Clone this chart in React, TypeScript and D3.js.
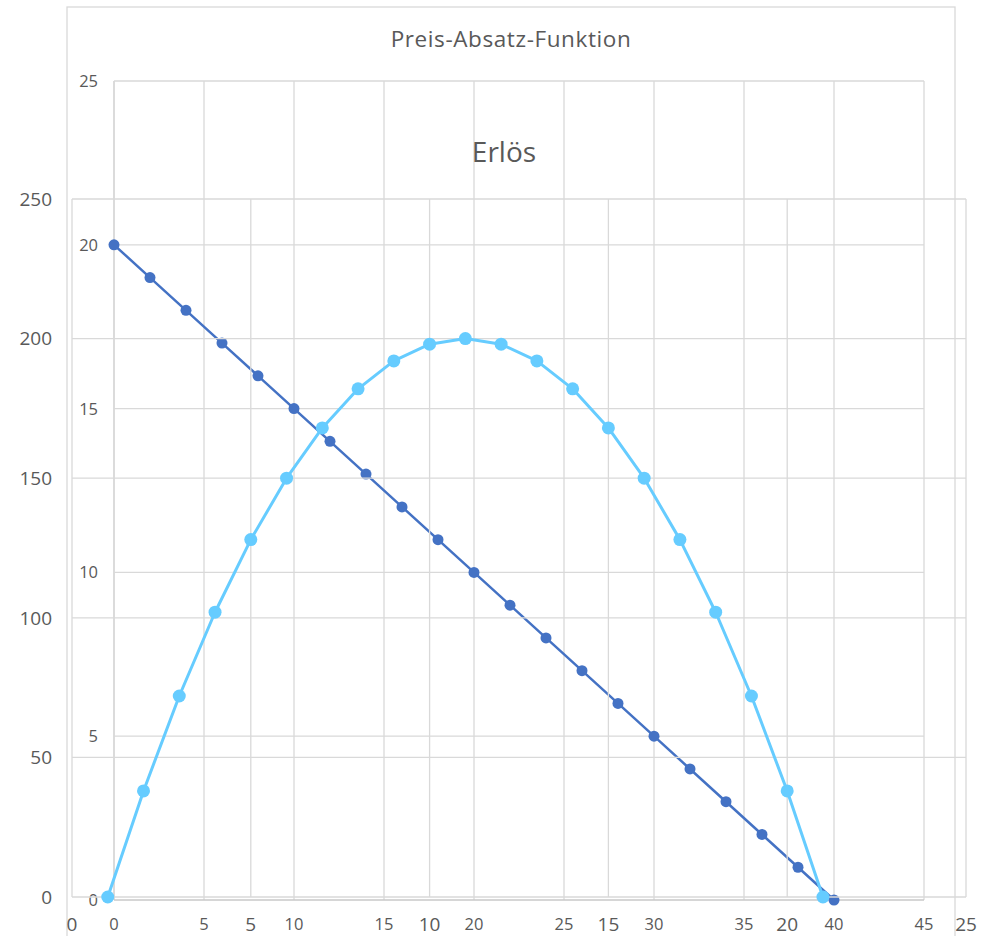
import React from "react";
import * as d3 from "d3";

// Back chart: Preis-Absatz-Funktion
const quantities = [0, 2, 4, 6, 8, 10, 12, 14, 16, 18, 20, 22, 24, 26, 28, 30, 32, 34, 36, 38, 40];
const prices = [20, 19, 18, 17, 16, 15, 14, 13, 12, 11, 10, 9, 8, 7, 6, 5, 4, 3, 2, 1, 0];
const backXTicks = [0, 5, 10, 15, 20, 25, 30, 35, 40, 45];
const backYTicks = [0, 5, 10, 15, 20, 25];

// Front chart: Erlös (plotted at category positions 1..21)
const revenuePositions = [1, 2, 3, 4, 5, 6, 7, 8, 9, 10, 11, 12, 13, 14, 15, 16, 17, 18, 19, 20, 21];
const revenue = [0, 38, 72, 102, 128, 150, 168, 182, 192, 198, 200, 198, 192, 182, 168, 150, 128, 102, 72, 38, 0];
const frontXTicks = [0, 5, 10, 15, 20, 25];
const frontYTicks = [0, 50, 100, 150, 200, 250];

const FONT = "'Open Sans', 'Noto Sans', sans-serif";
const GRID = "#d9d9d9";
const TEXT = "#595959";
const DARK = "#4472C4";
const LIGHT = "#66CCFF";

export default function App() {
  const bx = d3.scaleLinear().domain([0, 45]).range([114, 924]);
  const by = d3.scaleLinear().domain([0, 25]).range([900, 81]);
  const fx = d3.scaleLinear().domain([0, 25]).range([72, 966]);
  const fy = d3.scaleLinear().domain([0, 250]).range([897, 199]);

  const priceLine = d3
    .line<number>()
    .x((_, i) => bx(quantities[i]))
    .y((d) => by(d));
  const revLine = d3
    .line<number>()
    .x((_, i) => fx(revenuePositions[i]))
    .y((d) => fy(d));

  return (
    <svg
      width={992}
      height={936}
      style={{ position: "absolute", left: 0, top: 0, background: "#fff" }}
      fontFamily={FONT}
    >
      <rect x={0} y={0} width={992} height={936} fill="#fff" />
      {/* Back chart frame */}
      <rect x={67} y={7} width={888} height={960} fill="#fff" stroke={GRID} strokeWidth={1.3} />
      <text x={511} y={47} textAnchor="middle" fontSize={22.5} letterSpacing={0.6} fill={TEXT}>
        Preis-Absatz-Funktion
      </text>
      {/* Back grid */}
      {backXTicks.map((t) => (
        <line key={"bx" + t} x1={bx(t)} x2={bx(t)} y1={by(25)} y2={by(0)} stroke={t === 0 ? "#c8c8c8" : GRID} strokeWidth={1.3} />
      ))}
      {backYTicks.map((t) => (
        <line key={"by" + t} x1={bx(0)} x2={bx(45)} y1={by(t)} y2={by(t)} stroke={t === 0 ? "#c8c8c8" : GRID} strokeWidth={1.3} />
      ))}
      {backYTicks.map((t) => (
        <text key={"byl" + t} x={98} y={by(t)} dy="0.36em" textAnchor="end" fontSize={16.5} fill={TEXT}>
          {t}
        </text>
      ))}
      {backXTicks.map((t) => (
        <text key={"bxl" + t} x={bx(t)} y={924} dy="0.36em" textAnchor="middle" fontSize={16.5} fill={TEXT}>
          {t}
        </text>
      ))}
      <path d={priceLine(prices) || ""} fill="none" stroke={DARK} strokeWidth={2.5} />
      {prices.map((p, i) => (
        <circle key={"pp" + i} cx={bx(quantities[i])} cy={by(p)} r={5.5} fill={DARK} />
      ))}

      {/* Front chart */}
      <text x={504} y={162} textAnchor="middle" fontSize={28} fill={TEXT}>
        Erlös
      </text>
      {frontXTicks.map((t) => (
        <line key={"fx" + t} x1={fx(t)} x2={fx(t)} y1={fy(250)} y2={fy(0)} stroke={GRID} strokeWidth={1.3} />
      ))}
      {frontYTicks.map((t) => (
        <line key={"fy" + t} x1={fx(0)} x2={fx(25)} y1={fy(t)} y2={fy(t)} stroke={GRID} strokeWidth={1.3} />
      ))}
      {frontYTicks.map((t) => (
        <text key={"fyl" + t} x={52} y={fy(t)} dy="0.36em" textAnchor="end" fontSize={19} fill={TEXT}>
          {t}
        </text>
      ))}
      {frontXTicks.map((t) => (
        <text key={"fxl" + t} x={fx(t)} y={924} dy="0.36em" textAnchor="middle" fontSize={19} fill={TEXT}>
          {t}
        </text>
      ))}
      <path d={revLine(revenue) || ""} fill="none" stroke={LIGHT} strokeWidth={3} strokeLinejoin="round" />
      {revenue.map((r, i) => (
        <circle key={"rp" + i} cx={fx(revenuePositions[i])} cy={fy(r)} r={6.5} fill={LIGHT} />
      ))}
    </svg>
  );
}
